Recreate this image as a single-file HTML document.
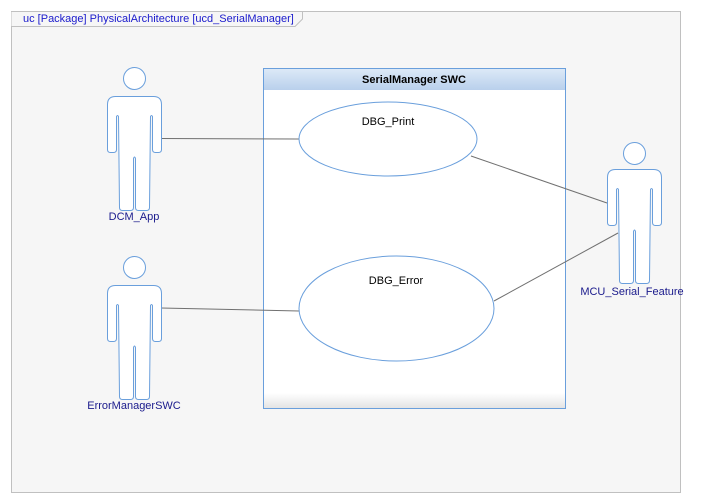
<!DOCTYPE html>
<html><head><meta charset="utf-8"><style>
html,body{margin:0;padding:0;background:#fff;}
svg{display:block;}
text{font-family:"Liberation Sans",sans-serif;font-size:11px;}
</style></head><body>
<svg width="702" height="502" viewBox="0 0 702 502" xmlns="http://www.w3.org/2000/svg">
<defs>
<linearGradient id="hd" x1="0" y1="0" x2="0" y2="1"><stop offset="0" stop-color="#dce9f7"/><stop offset="1" stop-color="#b9d0ec"/></linearGradient>
<linearGradient id="bt" x1="0" y1="0" x2="0" y2="1"><stop offset="0" stop-color="#ffffff"/><stop offset="1" stop-color="#e4e4e4"/></linearGradient>
<path id="act" d="M -19,0 L 19,0 Q 27,0 27,8 L 27,53 Q 27,56 24,56 L 21,56 Q 18,56 18,53 L 18,20 Q 17,18 16,20 L 15,111 Q 15,114 12,114 L 4,114 Q 1,114 1,111 L 1,62 Q 0,59 -1,62 L -1,111 Q -1,114 -4,114 L -12,114 Q -15,114 -15,111 L -16,20 Q -17,18 -18,20 L -18,53 Q -18,56 -21,56 L -24,56 Q -27,56 -27,53 L -27,8 Q -27,0 -19,0 Z" fill="#fff" stroke="#6a9fdc" stroke-width="1"/>
</defs>
<rect x="11.5" y="11.5" width="669" height="481" fill="#f6f6f6" stroke="#c0c0c0"/>
<path d="M11.5,11.5 L302.5,11.5 L302.5,19 L295,26.5 L11.5,26.5" fill="#f6f6f6" stroke="#c0c0c0"/>
<text x="23" y="22" fill="#1a1acc">uc [Package] PhysicalArchitecture [ucd_SerialManager]</text>

<rect x="263.5" y="68.5" width="302" height="340" fill="#fff" stroke="#6a9fdc"/>
<rect x="264" y="69" width="301" height="21" fill="url(#hd)"/>
<rect x="264" y="393" width="301" height="15" fill="url(#bt)"/>
<text x="414" y="83" text-anchor="middle" font-weight="bold" fill="#000">SerialManager SWC</text>

<g stroke="#707070" stroke-width="1">
<line x1="161" y1="138.5" x2="299" y2="139"/>
<line x1="161" y1="308" x2="299" y2="311"/>
<line x1="471" y1="156" x2="607" y2="203"/>
<line x1="494" y1="301" x2="618" y2="233"/>
</g>

<ellipse cx="388" cy="139" rx="89" ry="37" fill="#fff" stroke="#6a9fdc"/>
<text x="388" y="125" text-anchor="middle" fill="#000">DBG_Print</text>
<ellipse cx="396.5" cy="308.5" rx="97.5" ry="52.5" fill="#fff" stroke="#6a9fdc"/>
<text x="396" y="284" text-anchor="middle" fill="#000">DBG_Error</text>

<g transform="translate(134.5,96.5)"><circle cx="0" cy="-18" r="11" fill="#fff" stroke="#6a9fdc"/><use href="#act"/></g>
<text x="134" y="220" text-anchor="middle" fill="#1a1a8c">DCM_App</text>

<g transform="translate(134.5,285.5)"><circle cx="0" cy="-18" r="11" fill="#fff" stroke="#6a9fdc"/><use href="#act"/></g>
<text x="134" y="409" text-anchor="middle" fill="#1a1a8c">ErrorManagerSWC</text>

<g transform="translate(634.5,169.5)"><circle cx="0" cy="-16" r="11" fill="#fff" stroke="#6a9fdc"/><use href="#act"/></g>
<text x="632" y="295" text-anchor="middle" fill="#1a1a8c">MCU_Serial_Feature</text>
</svg>
</body></html>
